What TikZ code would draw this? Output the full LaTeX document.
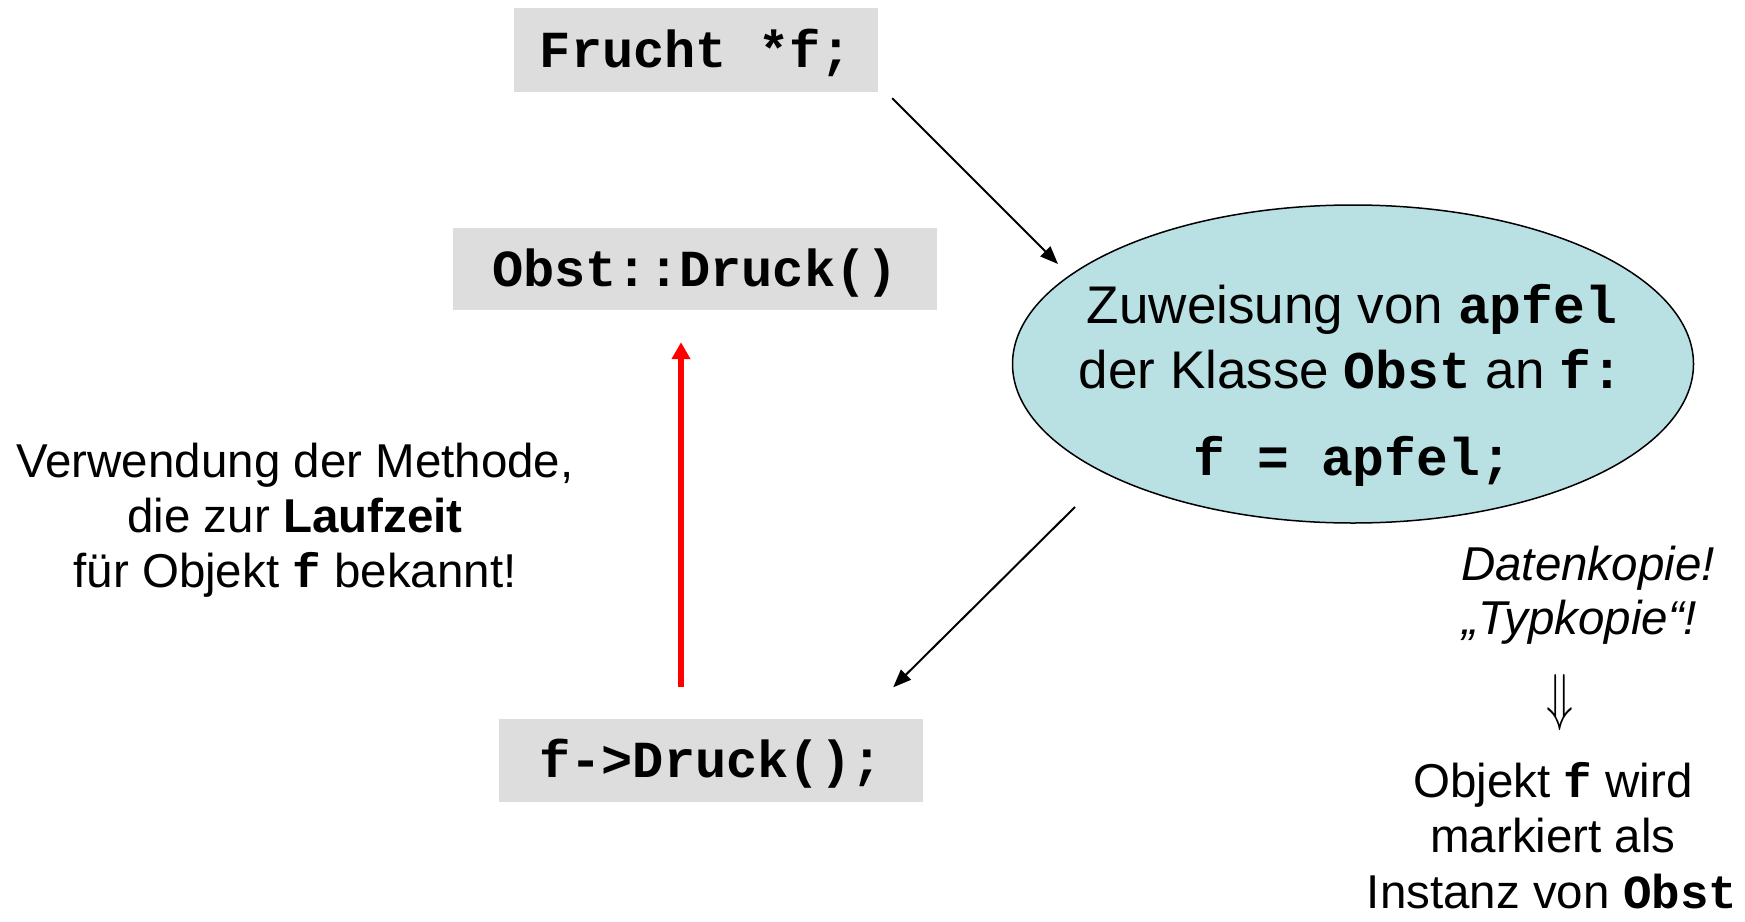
\documentclass[tikz,border=0pt]{standalone}
\usepackage{fontspec}
\setmainfont{Liberation Sans}
\setmonofont{Liberation Mono}
\usetikzlibrary{arrows.meta,shapes.geometric}
\definecolor{boxgray}{HTML}{DDDDDD}
\definecolor{ellblue}{HTML}{B9E0E3}
\definecolor{arrred}{HTML}{FF0000}
\newcommand{\cd}[1]{\texttt{\bfseries #1}}
\begin{document}
\begin{tikzpicture}[x=1pt,y=-1pt,
  codebox/.style={fill=boxgray, inner sep=0pt, text height=34pt, text depth=0pt,
    font=\fontsize{52}{60}\selectfont\ttfamily\bfseries},
  txt/.style={inner sep=0pt, anchor=base, font=\fontsize{47.5}{55}\selectfont},
  etxt/.style={inner sep=0pt, anchor=base, font=\fontsize{53}{60}\selectfont},
  arr/.style={line width=2pt, -{Triangle[length=18pt,width=14pt]}},
  redarr/.style={line width=6pt, draw=arrred, -{Triangle[length=17pt,width=18pt]}}]
\useasboundingbox (0,0) rectangle (1745,921);

% code boxes
\node[codebox, minimum width=364pt, minimum height=84pt] (frucht) at (696,50) {Frucht *f;};
\node[codebox, minimum width=484pt, minimum height=82pt] (obst) at (695,269) {Obst::Druck()};
\node[codebox, minimum width=424pt, minimum height=83pt] (druck) at (711,760) {f->Druck();};

% ellipse
\node[ellipse, draw, line width=1.5pt, fill=ellblue, minimum width=681pt, minimum height=318pt, inner sep=0pt] (ell) at (1353,364) {};
\node[etxt] (e1) at (1352,323) {Zuweisung von \cd{apfel}};
\node[etxt] (e2) at (1351,388) {der Klasse \cd{Obst} an \cd{f:}};
\node[etxt] (e3) at (1353,475) {\cd{f = apfel;}};

% left text
\node[txt] (l1) at (295,477) {Verwendung der Methode,};
\node[txt] (l2) at (295,532) {die zur \textbf{Laufzeit}};
\node[txt] (l3) at (295,587) {für Objekt \cd{f} bekannt!};

% right text
\node[txt] (r1) at (1588,580) {\itshape Datenkopie!};
\node[txt] (r2) at (1580,634) {\itshape „Typkopie“!};
\node[inner sep=0pt] (r3) at (1560,703) {\resizebox{27pt}{44pt}{$\Downarrow$}};
\node[txt] (r4) at (1553,797) {Objekt \cd{f} wird};
\node[txt] (r5) at (1553,852) {markiert als};
\node[txt] (r6) at (1552,908) {Instanz von \cd{Obst}};

% connectors
\draw[arr] ([shift={(14,6)}]frucht.south east) -- ([shift={(-295,-100)}]ell.center);
\draw[arr] ([shift={(-278,143)}]ell.center) -- ([shift={(-30,-31)}]druck.north east);
\draw[redarr] ([shift={(-30,-31)}]druck.north) -- ([shift={(-14,32)}]obst.south);
\end{tikzpicture}
\end{document}
